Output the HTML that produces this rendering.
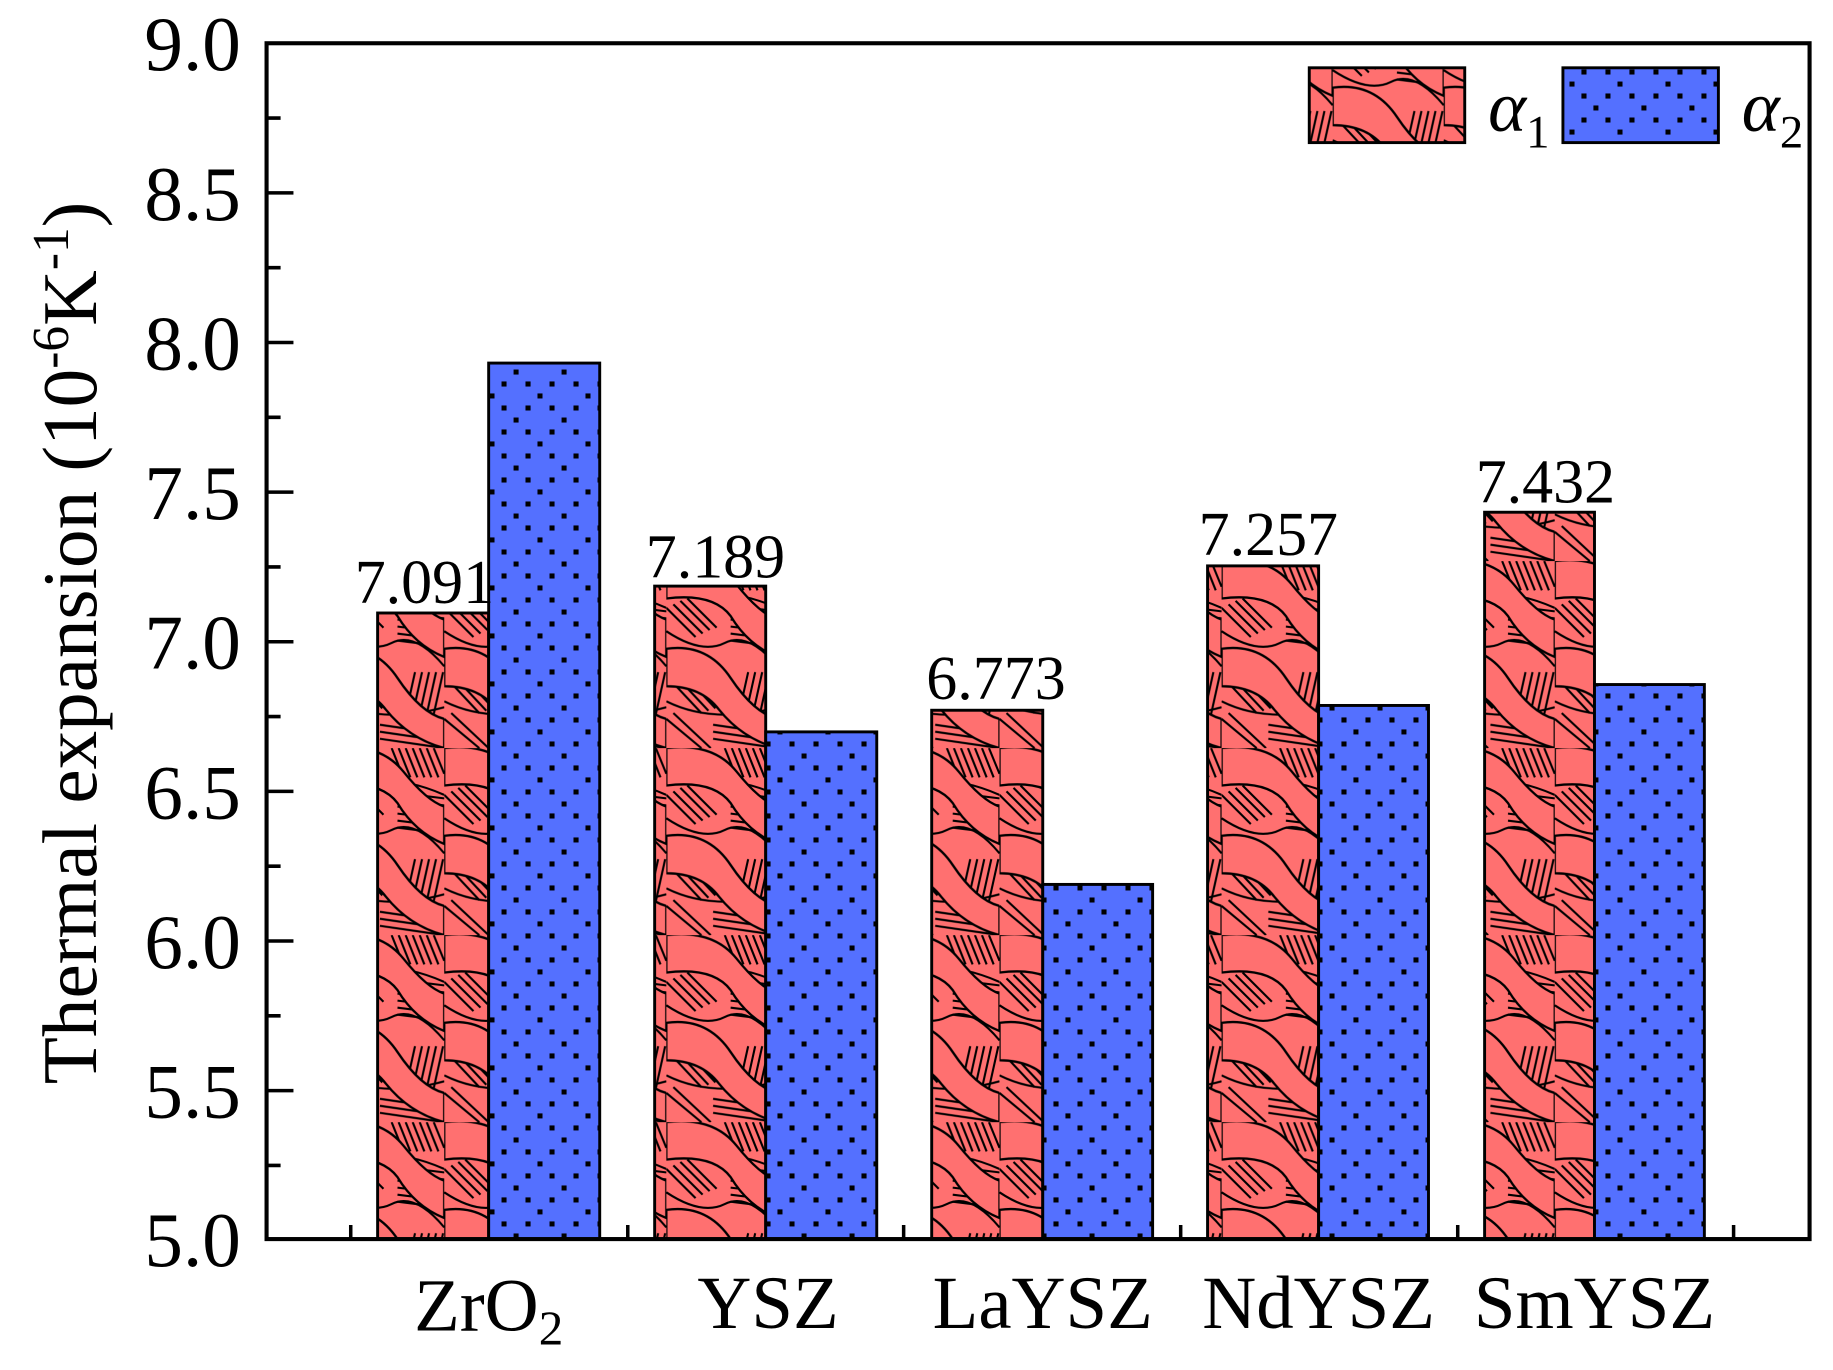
<!DOCTYPE html>
<html><head><meta charset="utf-8"><style>
html,body{margin:0;padding:0;background:#fff;}
svg{display:block;}
text{font-family:"Liberation Serif",serif;fill:#000;}
</style></head><body>
<svg width="1833" height="1370" viewBox="0 0 1568 1172" xmlns="http://www.w3.org/2000/svg">
<defs>
<pattern id="dots" patternUnits="userSpaceOnUse" width="41.06" height="41.06">
<rect width="41.06" height="41.06" fill="#5470FF"/>
<g fill="#000">
<rect x="-2.1" y="-2.1" width="4.3" height="4.3"/><rect x="18.4" y="-2.1" width="4.3" height="4.3"/><rect x="38.9" y="-2.1" width="4.3" height="4.3"/>
<rect x="-2.1" y="38.9" width="4.3" height="4.3"/><rect x="18.4" y="38.9" width="4.3" height="4.3"/><rect x="38.9" y="38.9" width="4.3" height="4.3"/>
<rect x="8.1" y="8.1" width="4.3" height="4.3"/>
<rect x="-2.1" y="18.4" width="4.3" height="4.3"/><rect x="18.4" y="18.4" width="4.3" height="4.3"/><rect x="38.9" y="18.4" width="4.3" height="4.3"/>
<rect x="28.7" y="28.7" width="4.3" height="4.3"/>
</g>
</pattern>
<pattern id="hatch" patternUnits="userSpaceOnUse" width="95" height="160">
<rect width="95" height="160" fill="#FF7070"/>
<g stroke="#000" stroke-width="1.8" fill="none">
<path d="M0 6 L20 0 M0 12 L30 2 M0 18 L40 5 M0 24 L45 10 M50 0 L60 25 M56 0 L66 25 M62 0 L72 25 M68 0 L78 25 M74 0 L84 25 M80 0 L90 25 M86 0 L95 22"/>
<path d="M0 40 L25 65 M6 37 L31 62 M12 34 L37 59 M18 32 L43 57 M55 38 L95 43 M55 44 L95 49 M55 50 L95 55 M55 56 L95 61 M55 62 L95 67 M55 68 L95 73"/>
<path d="M0 88 L25 110 M6 86 L31 108 M12 84 L37 106 M0 98 L30 130 M6 96 L36 128 M12 94 L42 126 M70 95 L60 140 M76 95 L66 140 M82 95 L72 140 M88 95 L78 140 M94 95 L84 140"/>
<path d="M0 135 L30 160 M6 130 L38 160 M40 140 L95 148 M40 146 L95 154 M40 152 L95 160"/>
<path d="M0 60 Q30 80 50 70 Q70 60 95 90 M0 120 Q40 140 95 125 M0 30 Q50 20 95 40"/>
</g>
<path d="M0 0 Q40 -5 60 20 Q80 45 95 50 L95 82 Q70 72 55 47 Q40 27 0 32 Z" fill="#FF7070" stroke="#000" stroke-width="2"/>
<path d="M0 75 Q35 70 55 100 Q75 130 95 135 L95 160 Q65 152 45 127 Q30 107 0 107 Z" fill="#FF7070" stroke="#000" stroke-width="2"/>
</pattern>
</defs>

<g stroke="#000" stroke-width="2.5">
<rect x="323" y="524.4" width="95" height="535.6" fill="url(#hatch)"/>
<rect x="418" y="310.6" width="95" height="749.4" fill="url(#dots)"/>
<rect x="560" y="501.4" width="95" height="558.6" fill="url(#hatch)"/>
<rect x="655" y="626.1" width="95" height="433.9" fill="url(#dots)"/>
<rect x="797" y="607.6" width="95" height="452.4" fill="url(#hatch)"/>
<rect x="892" y="756.6" width="94" height="303.4" fill="url(#dots)"/>
<rect x="1033" y="484.1" width="95" height="575.9" fill="url(#hatch)"/>
<rect x="1128" y="603.5" width="94" height="456.5" fill="url(#dots)"/>
<rect x="1270" y="438.2" width="94" height="621.8" fill="url(#hatch)"/>
<rect x="1364" y="585.6" width="94" height="474.4" fill="url(#dots)"/>
</g>

<g font-size="53" text-anchor="middle">
<text x="363" y="516">7.091</text>
<text x="612" y="494">7.189</text>
<text x="852" y="598">6.773</text>
<text x="1085" y="475">7.257</text>
<text x="1322" y="430">7.432</text>
</g>

<rect x="228" y="37" width="1320" height="1023" fill="none" stroke="#000" stroke-width="3.5"/>
<g stroke="#000" stroke-width="3">
<path d="M228 165 h23 M228 293 h23 M228 421 h23 M228 549 h23 M228 677 h23 M228 805 h23 M228 933 h23"/>
<path d="M228 101 h12 M228 229 h12 M228 357 h12 M228 485 h12 M228 613 h12 M228 741 h12 M228 869 h12 M228 997 h12"/>
<path d="M300 1060 v-12 M537 1060 v-12 M773 1060 v-12 M1010 1060 v-12 M1247 1060 v-12 M1483 1060 v-12"/>
</g>
<g font-size="66" text-anchor="end">
<text x="206" y="60">9.0</text>
<text x="206" y="188">8.5</text>
<text x="206" y="316">8.0</text>
<text x="206" y="444">7.5</text>
<text x="206" y="572">7.0</text>
<text x="206" y="700">6.5</text>
<text x="206" y="828">6.0</text>
<text x="206" y="956">5.5</text>
<text x="206" y="1083">5.0</text>
</g>
<g font-size="64" text-anchor="middle">
<text x="418" y="1138">ZrO<tspan font-size="42" dy="12">2</tspan></text>
<text x="657" y="1136">YSZ</text>
<text x="892" y="1136">LaYSZ</text>
<text x="1128" y="1136">NdYSZ</text>
<text x="1364" y="1136">SmYSZ</text>
</g>
<text transform="translate(82,550) rotate(-90)" font-size="66" text-anchor="middle">Thermal expansion (10<tspan font-size="44" dy="-24">-6</tspan><tspan dy="24">K</tspan><tspan font-size="44" dy="-24">-1</tspan><tspan dy="24">)</tspan></text>

<rect x="1120" y="58" width="133" height="64" fill="url(#hatch)" stroke="#000" stroke-width="2.5"/>
<text x="1273" y="112" font-size="62" font-style="italic">α<tspan font-size="40" font-style="normal" dy="14">1</tspan></text>
<rect x="1337" y="58" width="133" height="64" fill="url(#dots)" stroke="#000" stroke-width="2.5"/>
<text x="1490" y="112" font-size="62" font-style="italic">α<tspan font-size="40" font-style="normal" dy="14">2</tspan></text>
</svg>
</body></html>
